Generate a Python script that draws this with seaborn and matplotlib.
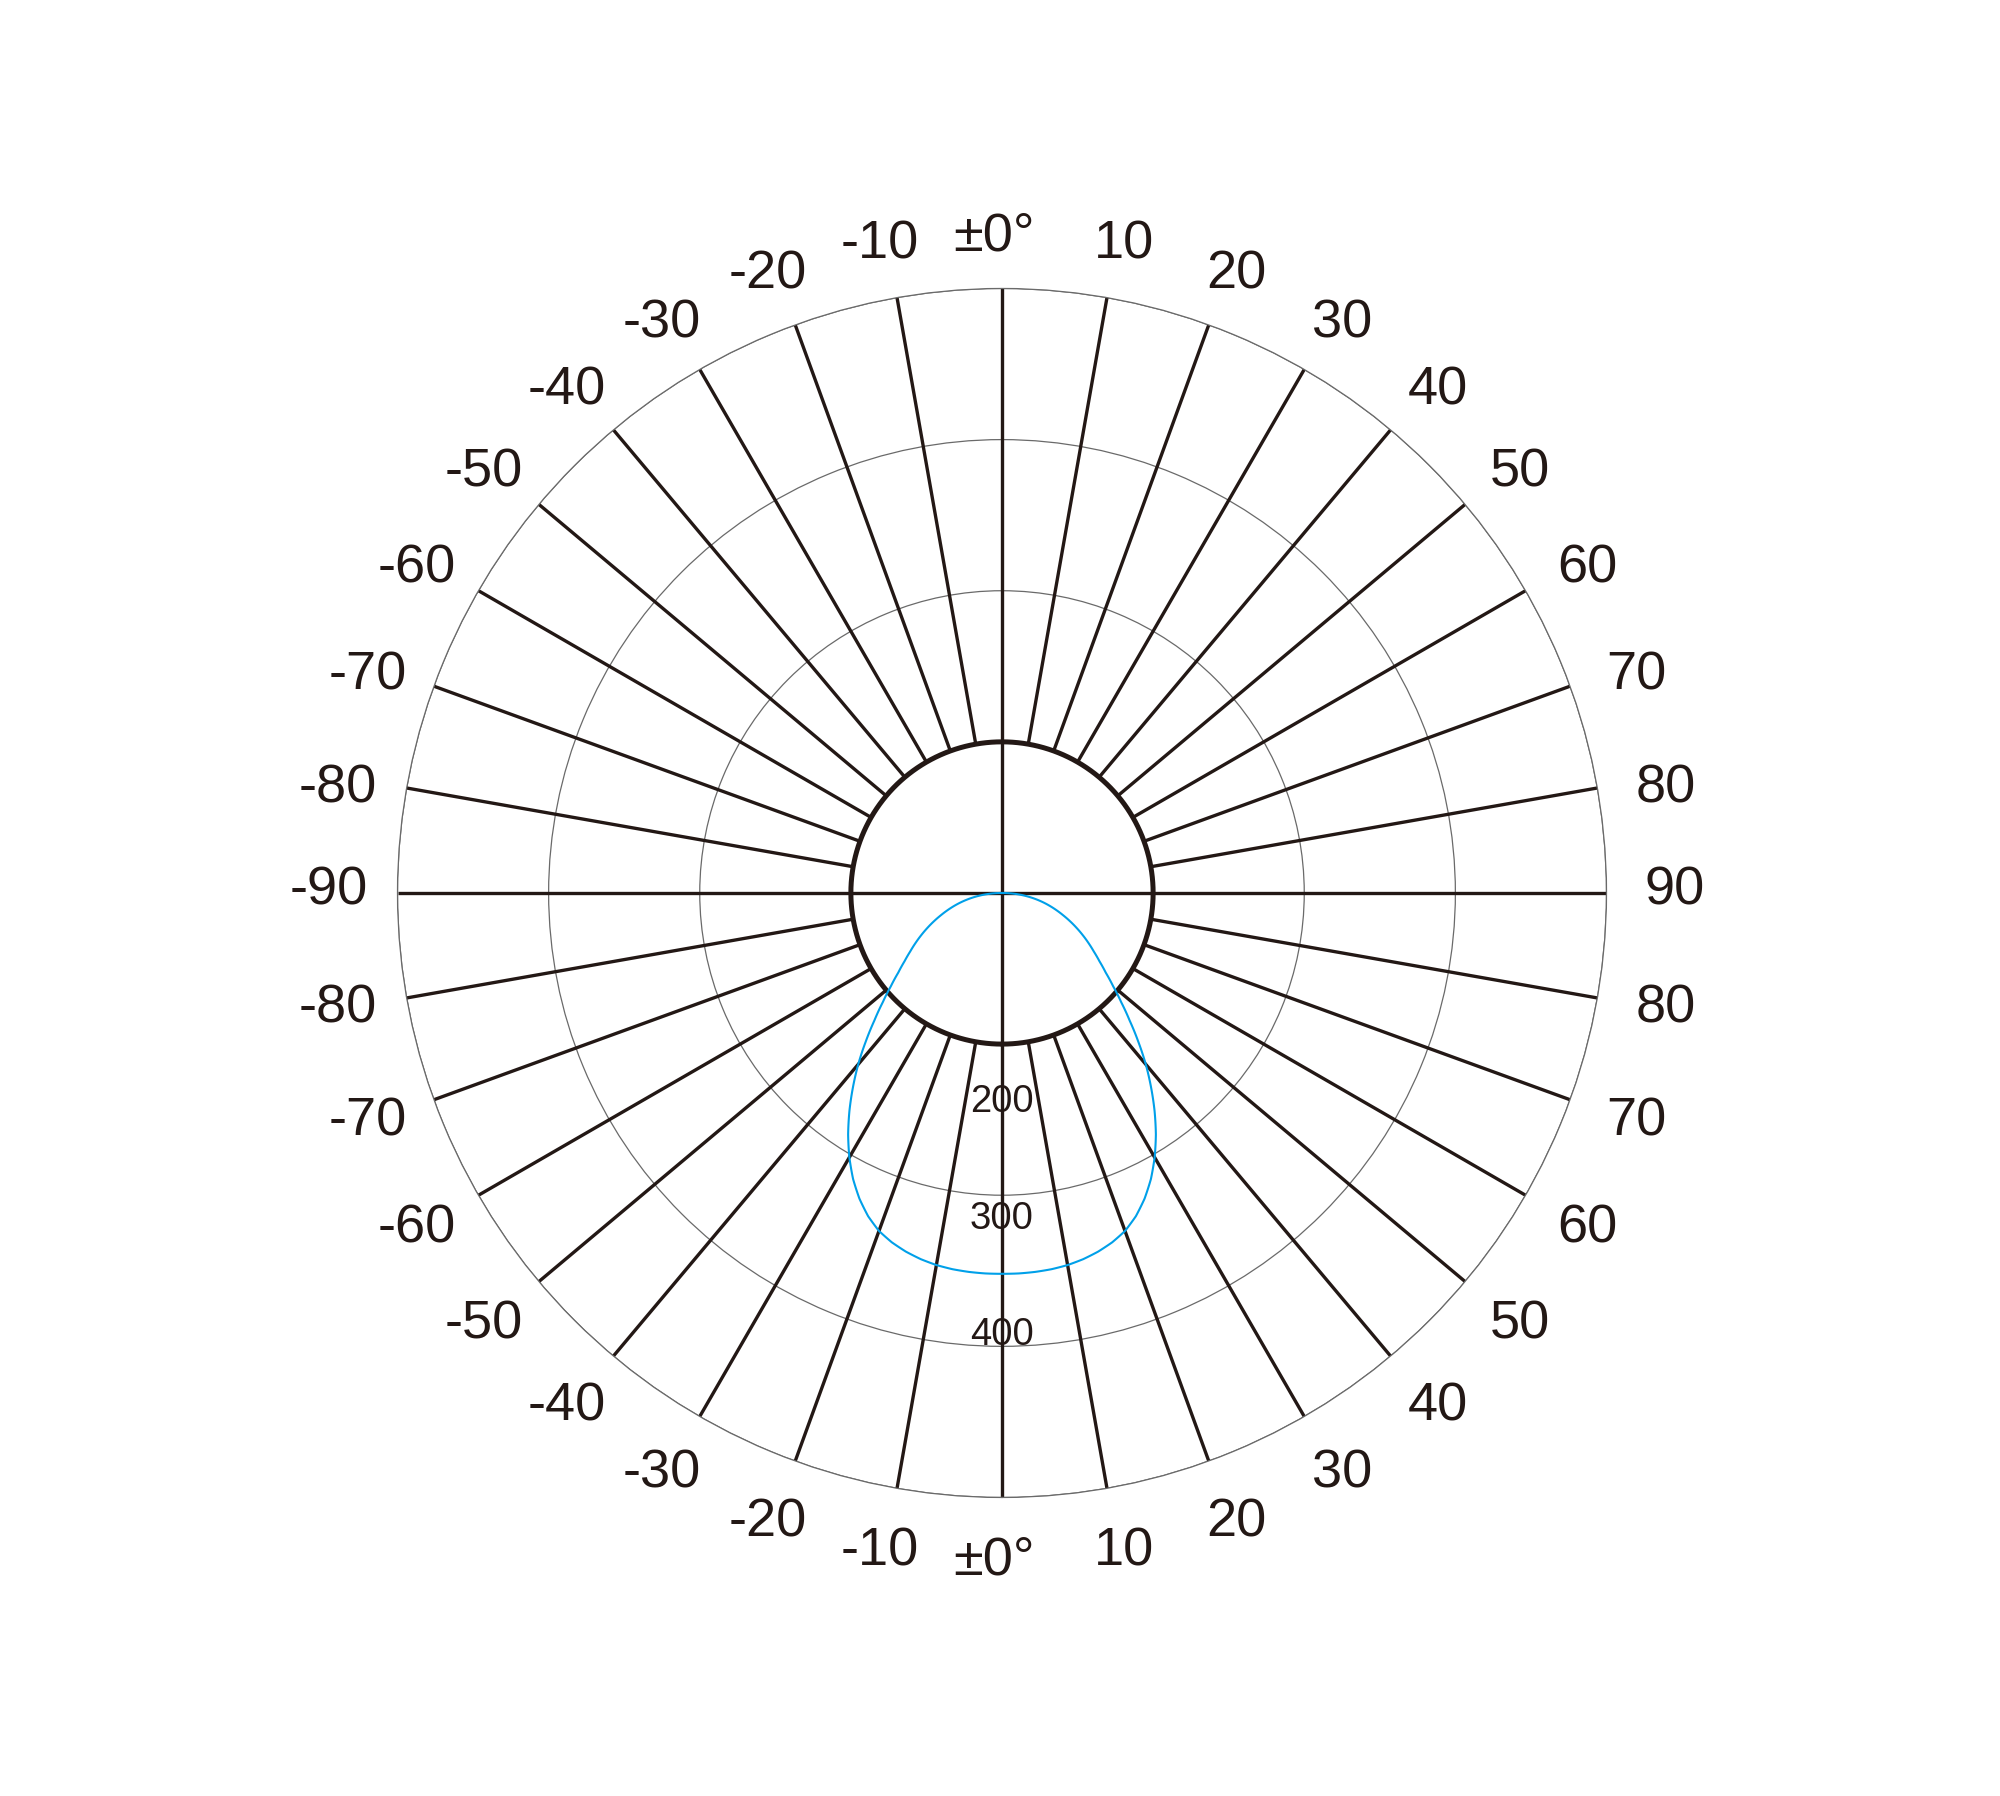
import numpy as np
import pandas as pd
import matplotlib
matplotlib.use("Agg")
import matplotlib.pyplot as plt
import seaborn as sns

# 配光数据 (cd)，角度从下方 0° 起算，左右对称
angles = [0, 2.5, 5, 7.5, 10, 12.5, 15, 17.5, 20, 22.5, 25, 27.5, 30, 32.5, 35,
          37.5, 40, 42.5, 45, 47.5, 50, 52.5, 55, 57.5, 60, 62.5, 65, 67.5, 70,
          72.5, 75, 77.5, 80, 82.5, 85, 87.5, 90]
intensity = [252, 252, 251.7, 251.1, 250, 248.2, 245.7, 242.4, 238, 231.5, 223.2,
             213.4, 202, 189.5, 176, 162, 148, 133.5, 119.5, 107, 96, 86.5, 78.7,
             72, 66, 60.1, 54.3, 48.6, 43, 37.7, 32.5, 27.3, 22, 16.6, 11.1, 5.6, 0]

# 刻度
angle_ticks = [10, 20, 30, 40, 50, 60, 70, 80, 90]
ring_values = [100, 200, 300, 400]
ring_labels = ["200", "300", "400"]
ring_label_r = [135.7, 213, 290]

ink = "#231815"
blue = "#00a0e9"

sns.set_style("white")
plt.rcParams["font.family"] = ["Liberation Sans", "DejaVu Sans"]

df = pd.DataFrame({
    "theta": np.deg2rad([-a for a in angles[::-1]] + angles[1:]),
    "cd": intensity[::-1] + intensity[1:],
})

fig = plt.figure(figsize=(20, 17.96), dpi=100)
ax = fig.add_axes([0.19875, 0.1662, 0.6045, 0.6732], projection="polar")
ax.set_theta_zero_location("S")
ax.set_theta_direction(1)

# 同心圆
ax.set_xticks([])
ax.set_yticks(ring_values)
ax.set_yticklabels([])
ax.yaxis.grid(True, color="#6a6a6a", lw=0.9)
ax.spines["polar"].set_color("#6a6a6a")
ax.spines["polar"].set_linewidth(0.9)

# 放射线
spokes = np.deg2rad(np.arange(0, 360, 10))
inner = [0 if a % 90 == 0 else 100 for a in range(0, 360, 10)]
ax.vlines(spokes, inner, 400, color=ink, lw=2.4)

# 内圆
circ = np.linspace(0, 2 * np.pi, 361)
ax.plot(circ, np.full_like(circ, 100), color=ink, lw=3.6)

# 配光曲线
sns.lineplot(data=df, x="theta", y="cd", ax=ax, color=blue, lw=1.5, sort=False)
curve = ax.lines[-1]
curve.get_path()._interpolation_steps = 20
ax.set_xlabel("")
ax.set_ylabel("")
ax.set_thetalim(0, 2 * np.pi)
ax.set_ylim(0, 400)

# 角度标签
fs = 39


def lab_r(a):
    return (663 + 10 * abs(np.sin(np.deg2rad(a)))) / 1.511


kw = dict(ha="center", va="center_baseline", fontsize=fs, color=ink)
ax.text(np.deg2rad(180.7), 438, "±0°", **kw)
ax.text(np.deg2rad(-0.7), 438, "±0°", **kw)
for a in angle_ticks:
    off = -0.7 if a == 90 else 0.6
    r = lab_r(a)
    # 上半部分
    ax.text(np.deg2rad(180 - a - off), r, str(a), **kw)
    ax.text(np.deg2rad(180 + a + off), r, "-" + str(a), **kw)
    if a == 90:
        continue
    # 下半部分
    ax.text(np.deg2rad(a + off), r, str(a), **kw)
    ax.text(np.deg2rad(-a - off), r, "-" + str(a), **kw)

# 光强标签
for lab, r in zip(ring_labels, ring_label_r):
    ax.text(0, r, lab, ha="center", va="center_baseline", fontsize=27.5, color=ink)

fig.savefig("out.png", dpi=100, facecolor="white")
